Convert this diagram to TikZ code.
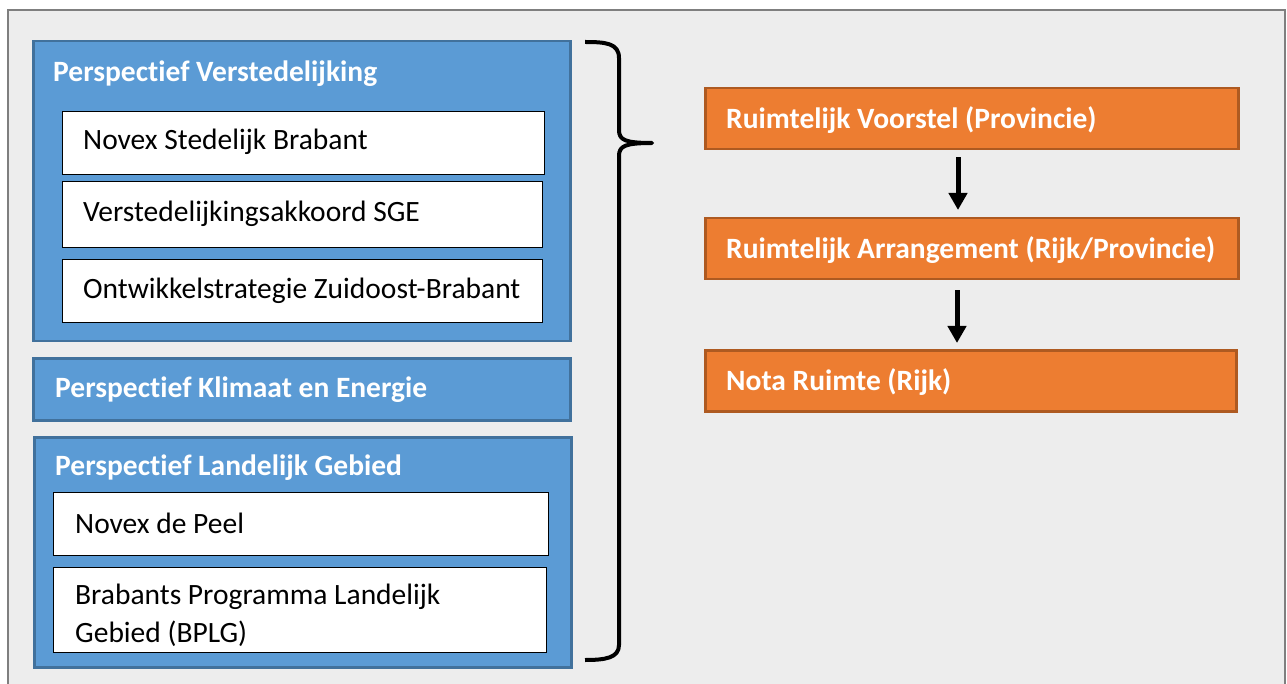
\documentclass[tikz,border=0pt]{standalone}
\usepackage{fontspec}
\setmainfont{Carlito}[Ligatures=NoCommon]
\usetikzlibrary{arrows.meta}
\definecolor{bgc}{HTML}{EDEDED}
\definecolor{framec}{HTML}{7F7F7F}
\definecolor{bluef}{HTML}{5B9BD5}
\definecolor{blued}{HTML}{41719C}
\definecolor{orangef}{HTML}{ED7D31}
\definecolor{oranged}{HTML}{AE5A21}
\tikzset{
  bluebox/.style={draw=blued, fill=bluef, line width=2.5pt, rectangle, anchor=north west, inner sep=0pt},
  whitebox/.style={draw=black, fill=white, line width=1.2pt, rectangle, anchor=north west, inner sep=0pt},
  orangebox/.style={draw=oranged, fill=orangef, line width=2.5pt, rectangle, anchor=north west, inner sep=0pt},
  titletext/.style={anchor=west, text=white, font=\fontsize{29.5}{36}\selectfont\bfseries, inner sep=0pt},
  bodytext/.style={anchor=west, text=black, font=\fontsize{29.5}{38}\selectfont, inner sep=0pt, align=left},
  flowarrow/.style={line width=5pt, -{Triangle[width=18pt,length=17pt]}},
}
\begin{document}
\begin{tikzpicture}[x=1pt,y=-1pt]
\useasboundingbox (0,0) rectangle (1287,684);
\clip (0,0) rectangle (1287,684);
\fill[white] (0,0) rectangle (1287,684);
\draw[framec, line width=2.5pt, fill=bgc] (8,10) rectangle (1285,720);

% left blue groups
\node[bluebox, minimum width=537pt, minimum height=300pt] (pv) at (32,40) {};
\node[titletext] (pvt) at (53,74) {Perspectief Verstedelijking};
\node[whitebox, minimum width=482pt, minimum height=63pt] (w1) at (62,111) {};
\node[bodytext] (w1t) at (83,142) {Novex Stedelijk Brabant};
\node[whitebox, minimum width=480pt, minimum height=66pt] (w2) at (62,181) {};
\node[bodytext] (w2t) at (83,214) {Verstedelijkingsakkoord SGE};
\node[whitebox, minimum width=480pt, minimum height=63pt] (w3) at (62,259) {};
\node[bodytext] (w3t) at (83,291) {Ontwikkelstrategie Zuidoost-Brabant};

\node[bluebox, minimum width=537pt, minimum height=62pt] (pk) at (32,357) {};
\node[titletext] (pkt) at (55,390) {Perspectief Klimaat en Energie};

\node[bluebox, minimum width=537pt, minimum height=230pt] (pl) at (33,436) {};
\node[titletext] (plt) at (55,468) {Perspectief Landelijk Gebied};
\node[whitebox, minimum width=495pt, minimum height=63pt] (w4) at (53,492) {};
\node[bodytext] (w4t) at (75,523) {Novex de Peel};
\node[whitebox, minimum width=493pt, minimum height=85pt] (w5) at (53,567) {};
\node[bodytext] (w5t) at (75,615) {Brabants Programma Landelijk\\Gebied (BPLG)};

% brace
\coordinate (bt) at (585,42);
\coordinate (bm) at (652,143);
\coordinate (bb) at (585,660);
\draw[line width=4pt, line join=round]
  (bt) .. controls (605,42) and (619,43) .. (619,58)
  -- (619,130) .. controls (619,140) and (625,143) .. (bm)
  .. controls (625,143) and (619,146) .. (619,156)
  -- (619,645) .. controls (619,658) and (605,660) .. (bb);

% right orange flow
\node[orangebox, minimum width=533pt, minimum height=61pt] (o1) at (704,87) {};
\node[titletext] (o1t) at (726,120) {Ruimtelijk Voorstel (Provincie)};
\node[orangebox, minimum width=533pt, minimum height=61pt] (o2) at (704,217) {};
\node[titletext] (o2t) at (726,250) {Ruimtelijk Arrangement (Rijk/Provincie)};
\node[orangebox, minimum width=531pt, minimum height=61pt] (o3) at (704,349) {};
\node[titletext] (o3t) at (726,382) {Nota Ruimte (Rijk)};

\draw[flowarrow] ([xshift=254pt,yshift=-7pt]o1.south west) -- ([xshift=254pt,yshift=7pt]o2.north west);
\draw[flowarrow] ([xshift=253pt,yshift=-10pt]o2.south west) -- ([xshift=253pt,yshift=6pt]o3.north west);
\end{tikzpicture}
\end{document}
